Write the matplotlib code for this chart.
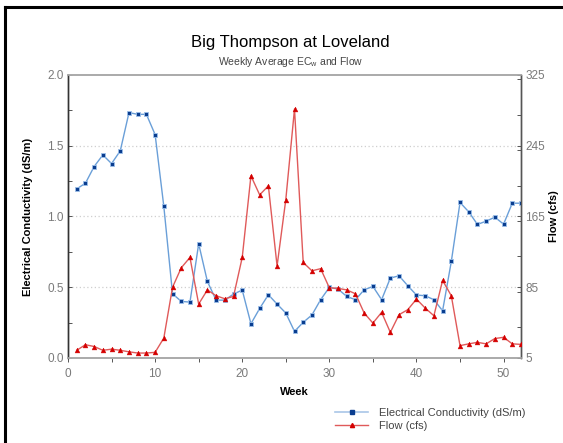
import numpy as np
import matplotlib.pyplot as plt
from matplotlib.lines import Line2D
from matplotlib.ticker import MultipleLocator

plt.rcParams['font.family'] = ['Liberation Sans', 'DejaVu Sans']
plt.rcParams['mathtext.default'] = 'regular'

weeks = list(range(1, 53))

# weekly average electrical conductivity, dS/m
ec = [1.195, 1.235, 1.353, 1.435, 1.374, 1.464, 1.734, 1.722, 1.722, 1.579,
      1.071, 0.454, 0.400, 0.395, 0.807, 0.541, 0.409, 0.409, 0.452, 0.480,
      0.242, 0.350, 0.447, 0.381, 0.318, 0.188, 0.252, 0.304, 0.412, 0.499,
      0.487, 0.435, 0.412, 0.482, 0.506, 0.412, 0.565, 0.581, 0.511, 0.445,
      0.440, 0.412, 0.334, 0.682, 1.099, 1.033, 0.944, 0.967, 0.995, 0.946,
      1.094, 1.094]

# weekly average flow, cfs
flow = [13.7, 20.0, 18.0, 13.7, 15.0, 13.7, 12.0, 10.6, 10.6, 11.4,
        27.6, 85.0, 107.0, 118.7, 66.0, 82.0, 75.4, 72.0, 74.6, 118.7,
        211.0, 189.5, 199.6, 109.0, 184.0, 286.6, 113.0, 103.6, 106.0, 84.4,
        83.7, 82.0, 77.6, 55.8, 44.5, 56.6, 34.0, 54.0, 59.6, 71.6,
        61.5, 52.8, 92.7, 75.4, 19.0, 21.0, 22.7, 21.0, 27.0, 28.4,
        21.0, 20.4]

ec_ticks = [0.0, 0.5, 1.0, 1.5, 2.0]
flow_ticks = [5, 85, 165, 245, 325]
week_ticks = [0, 10, 20, 30, 40, 50]

ec_line = '#6a9fd8'
ec_mark = '#0a3d8f'
flow_line = '#e05a5a'
flow_mark = '#d40000'
tick_grey = '#7a7a7a'

fig = plt.figure(figsize=(5.63, 4.43), dpi=100)
ax = fig.add_axes([68 / 563, 1 - 358 / 443, (521 - 68) / 563, (358 - 75) / 443])
ax2 = ax.twinx()

ax.plot(weeks, ec, color=ec_line, lw=1.0, marker='s', ms=3.5,
        mfc=ec_mark, mec='#9cc0ea', mew=0.6, zorder=3)
ax2.plot(weeks, flow, color=flow_line, lw=1.0, marker='^', ms=3.5,
         mfc=flow_mark, mec=flow_mark, mew=0.3, zorder=3)

ax.set_xlim(0, 52)
ax.set_ylim(0, 2.0)
ax2.set_ylim(5, 325)

ax.set_xticks(week_ticks)
ax.xaxis.set_minor_locator(MultipleLocator(5))
ax.set_yticks(ec_ticks)
ax.set_yticklabels(['%.1f' % v for v in ec_ticks])
ax.yaxis.set_minor_locator(MultipleLocator(0.25))
ax2.set_yticks(flow_ticks)
ax2.yaxis.set_minor_locator(MultipleLocator(40))

for g in [0.5, 1.0, 1.5]:
    ax.axhline(g, color='#cfcfcf', lw=0.9, ls=(0, (1, 2)), zorder=1)

ax.tick_params(axis='x', which='both', direction='out', length=3, width=0.7,
               color='#555555', labelsize=8.5, labelcolor=tick_grey, pad=4)
ax.tick_params(axis='y', which='both', direction='in', length=3, width=0.7,
               color='#555555', labelsize=8.5, labelcolor=tick_grey, pad=3)
ax2.tick_params(axis='y', which='both', direction='in', length=3, width=0.7,
                color='#555555', labelsize=8.5, labelcolor=tick_grey, pad=3)

for a in (ax, ax2):
    a.spines['top'].set_color('#aaaaaa')
    a.spines['top'].set_linestyle((0, (2, 1)))
    a.spines['top'].set_linewidth(1.2)
    a.spines['bottom'].set_color('#aaaaaa')
    a.spines['bottom'].set_linestyle((0, (2, 1)))
    a.spines['bottom'].set_linewidth(1.2)
    a.spines['left'].set_color('#333333')
    a.spines['right'].set_color('#555555')
    a.spines['left'].set_linewidth(1.0)
    a.spines['right'].set_linewidth(1.0)

ax.set_xlabel('Week', fontsize=8, fontweight='bold', labelpad=5)
ax.set_ylabel('Electrical Conductivity (dS/m)', fontsize=8, fontweight='bold', labelpad=10)
ax2.set_ylabel('Flow (cfs)', fontsize=8, fontweight='bold', labelpad=3)

fig.text(0.516, 0.903, 'Big Thompson at Loveland', ha='center', va='center', fontsize=12)
fig.text(0.516, 0.86, 'Weekly Average EC$_w$ and Flow', ha='center', va='center',
         fontsize=7.5, color='#444444')

handles = [
    Line2D([], [], color='#a9c6e8', lw=1.2, marker='s', ms=3, mfc=ec_mark, mec=ec_mark),
    Line2D([], [], color=flow_line, lw=1.0, marker='^', ms=3, mfc=flow_mark, mec=flow_mark),
]
fig.legend(handles, ['Electrical Conductivity (dS/m)', 'Flow (cfs)'],
           loc='upper left', bbox_to_anchor=(325 / 563, 1 - 398 / 443),
           frameon=False, fontsize=8, handlelength=3.0, handletextpad=1.0,
           labelspacing=0.3, labelcolor='#444444')

# outer frame on the left and top edges
fig.add_artist(Line2D([5 / 563, 5 / 563], [0, 1 - 7 / 443], color='black', lw=2.2))
fig.add_artist(Line2D([5 / 563, 1], [1 - 7 / 443, 1 - 7 / 443], color='black', lw=2.2))

fig.savefig('out.png', dpi=100)
